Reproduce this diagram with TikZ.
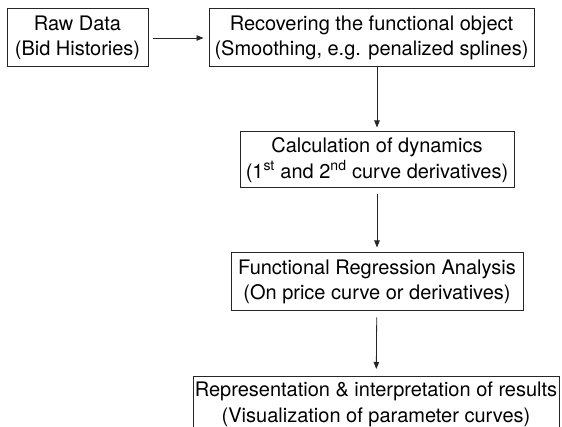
\documentclass[tikz,border=0pt]{standalone}
\usepackage{fontspec}
\setmainfont{TeX Gyre Heros}
\usepackage{tikz}
\usetikzlibrary{arrows.meta}
\usetikzlibrary{positioning}

\begin{document}
\begin{tikzpicture}[x=1pt, y=-1pt,
    >={Triangle[length=7pt,width=5.5pt]},
    box/.style={draw=black!85, line width=1pt, inner sep=0pt, align=center,
      font=\fontsize{20}{25.5}\selectfont, minimum height=58pt},
    flow/.style={->, line width=0.8pt, black!85}]
    \useasboundingbox (0,0) rectangle (562,427);
    \node[box, minimum width=141pt] (A) at (77.5,38) {Raw Data\\(Bid Histories)};
    \node[box, minimum width=325pt] (B) at (371.5,38) {Recovering the functional object\\(Smoothing, e.g. penalized splines)};
    \node[box, minimum width=274pt, minimum height=56pt] (C) at (377,160) {Calculation of dynamics\\(1\textsuperscript{st} and 2\textsuperscript{nd} curve derivatives)};
    \node[box, minimum width=292pt] (D) at (377,282) {Functional Regression Analysis\\(On price curve or derivatives)};
    \node[box, minimum width=366pt, minimum height=56pt, anchor=north] (E) at (376,376) {Representation \& interpretation of results\\(Visualization of parameter curves)};
    \path [flow, shorten <=4pt, shorten >=5pt] (A) edge (B);
    \path [flow, shorten >=4pt] (C.north |- B.south) edge (C.north);
    \path [flow, shorten <=6pt, shorten >=5pt] (C) edge (D);
    \path [flow, shorten <=6pt, shorten >=7pt] (D) edge (E);
  \end{tikzpicture}
\end{document}
